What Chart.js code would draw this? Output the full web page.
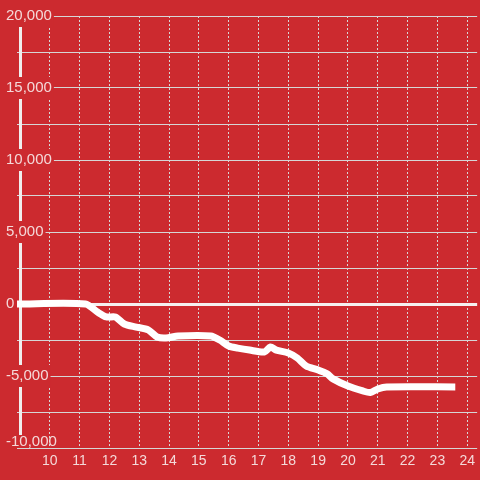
<!DOCTYPE html>
<html>
<head>
<meta charset="utf-8">
<script src="https://cdn.jsdelivr.net/npm/chart.js@4"></script>
<style>
  html, body { margin: 0; padding: 0; background: #cc2a2f; }
  #wrap { width: 480px; height: 480px; }
</style>
</head>
<body>
<div id="wrap"><canvas id="chart"></canvas></div>
<script>
// values (hour of day -> running total)
const hours = [8.9, 11.2, 11.6, 11.9, 12.2, 12.5, 12.9, 13.3, 13.6, 13.9, 14.3, 15.4, 15.7, 16.0, 16.3, 16.7, 17.2, 17.4, 17.6, 18.0, 18.3, 18.6, 19.0, 19.3, 19.5, 20.0, 20.5, 20.75, 21.0, 21.3, 23.6];
const values = [0, 0, -560, -900, -900, -1390, -1600, -1800, -2290, -2360, -2220, -2220, -2500, -2920, -3060, -3200, -3330, -2990, -3200, -3400, -3750, -4300, -4580, -4850, -5200, -5700, -6040, -6150, -5900, -5760, -5760];
const hourTicks = [10, 11, 12, 13, 14, 15, 16, 17, 18, 19, 20, 21, 22, 23, 24];
const yMin = -10000;
const yMax = 20000;
const yLabelStep = 5000;

const bg = '#cc2a2f';
const labelColor = '#f4d9d9';
const gridColor = '#d6d6d6';
const zeroColor = '#f5f0f0';

// white axis bar just inside the plot's left edge
const axisBarPlugin = {
  id: 'axisBar',
  beforeDatasetsDraw(chart) {
    const { ctx, chartArea, scales } = chart;
    const bottom = scales.y.getPixelForValue(yMin) - 13;
    ctx.save();
    ctx.fillStyle = '#f0eeee';
    ctx.fillRect(chartArea.left + 2, chartArea.top, 3, bottom - chartArea.top);
    ctx.restore();
  }
};

const ctx = document.getElementById('chart');
new Chart(ctx, {
  type: 'line',
  data: {
    datasets: [{
      data: hours.map((h, i) => ({ x: h, y: values[i] })),
      borderColor: '#ffffff',
      borderWidth: 7,
      pointRadius: 0,
      tension: 0.25,
      clip: false,
      borderJoinStyle: 'round'
    }]
  },
  options: {
    responsive: true,
    maintainAspectRatio: false,
    animation: false,
    layout: { padding: { top: 16, left: 0, right: 0, bottom: 0 } },
    plugins: {
      legend: { display: false },
      tooltip: { enabled: false }
    },
    scales: {
      x: {
        type: 'linear',
        min: 8.9,
        max: 24.333,
        afterBuildTicks: (scale) => { scale.ticks = hourTicks.map(v => ({ value: v })); },
        afterFit: (scale) => { scale.height = 32; },
        grid: { color: gridColor, lineWidth: 1, drawTicks: false },
        border: { display: false, dash: [2, 2] },
        ticks: {
          color: labelColor,
          font: { family: 'Liberation Sans', size: 14 },
          padding: 5,
          maxRotation: 0
        }
      },
      y: {
        min: yMin,
        max: yMax,
        afterFit: (scale) => { scale.width = 17; },
        grid: {
          color: (c) => c.tick && c.tick.value === 0 ? zeroColor : gridColor,
          lineWidth: (c) => c.tick && c.tick.value === 0 ? 3 : 1,
          drawTicks: false
        },
        border: { display: false },
        ticks: {
          stepSize: 2500,
          z: 1,
          mirror: true,
          crossAlign: 'near',
          padding: -11,
          color: labelColor,
          font: (c) => ({
            family: 'Liberation Sans',
            size: 15,
            lineHeight: c.tick && c.tick.value === yMin ? 0.8 : 1.2
          }),
          showLabelBackdrop: (c) => c.tick.value % yLabelStep === 0 && c.tick.value !== yMin,
          backdropColor: bg,
          backdropPadding: 2,
          callback: (v) => {
            if (v % yLabelStep !== 0) return '';
            const s = v.toLocaleString('en-US');
            return v === yMin ? [s, ''] : s;
          }
        }
      }
    }
  },
  plugins: [axisBarPlugin]
});
</script>
</body>
</html>
